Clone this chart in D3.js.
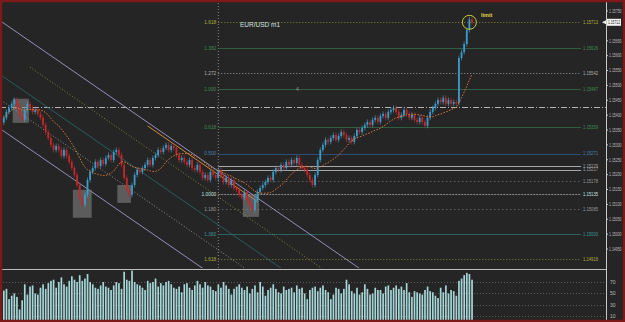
<!DOCTYPE html>
<html>
<head>
<meta charset="utf-8">
<script src="https://cdnjs.cloudflare.com/ajax/libs/d3/7.8.5/d3.min.js"></script>
<style>
  body { margin: 0; background: #252525; }
  svg { display: block; font-family: 'Liberation Sans', Arial, sans-serif; }
</style>
</head>
<body>
<div id="chart"></div>
<script>
// EUR/USD m1 closes, one per candle
const closes = [
  1.15391, 1.15411, 1.15424, 1.15438, 1.15451, 1.15431, 1.15401, 1.15384, 1.15417, 1.15438,
  1.15424, 1.15411, 1.15417, 1.15404, 1.15391, 1.15367, 1.15343, 1.15323, 1.15300, 1.15283,
  1.15296, 1.15283, 1.15263, 1.15283, 1.15263, 1.15243, 1.15222, 1.15199, 1.15165, 1.15122,
  1.15099, 1.15132, 1.15182, 1.15209, 1.15222, 1.15243, 1.15229, 1.15249, 1.15236, 1.15256,
  1.15266, 1.15249, 1.15276, 1.15283, 1.15266, 1.15233, 1.15189, 1.15149, 1.15132, 1.15165,
  1.15199, 1.15216, 1.15209, 1.15222, 1.15233, 1.15249, 1.15233, 1.15256, 1.15266, 1.15283,
  1.15276, 1.15290, 1.15300, 1.15283, 1.15296, 1.15290, 1.15266, 1.15249, 1.15256, 1.15243,
  1.15233, 1.15249, 1.15222, 1.15216, 1.15233, 1.15209, 1.15189, 1.15199, 1.15182, 1.15209,
  1.15199, 1.15189, 1.15216, 1.15196, 1.15175, 1.15189, 1.15165, 1.15182, 1.15155, 1.15149,
  1.15132, 1.15122, 1.15142, 1.15115, 1.15099, 1.15081, 1.15115, 1.15142, 1.15155, 1.15165,
  1.15175, 1.15189, 1.15182, 1.15209, 1.15222, 1.15216, 1.15233, 1.15222, 1.15243, 1.15233,
  1.15249, 1.15239, 1.15256, 1.15233, 1.15222, 1.15216, 1.15199, 1.15182, 1.15165, 1.15199,
  1.15249, 1.15283, 1.15300, 1.15317, 1.15310, 1.15323, 1.15333, 1.15317, 1.15330, 1.15343,
  1.15333, 1.15317, 1.15323, 1.15310, 1.15330, 1.15350, 1.15343, 1.15357, 1.15367, 1.15377,
  1.15367, 1.15384, 1.15391, 1.15377, 1.15397, 1.15404, 1.15391, 1.15411, 1.15417, 1.15424,
  1.15411, 1.15391, 1.15401, 1.15417, 1.15404, 1.15391, 1.15401, 1.15384, 1.15377, 1.15391,
  1.15377, 1.15364, 1.15391, 1.15411, 1.15424, 1.15438, 1.15451, 1.15444, 1.15458, 1.15438,
  1.15451, 1.15438, 1.15444, 1.15441, 1.15592, 1.15612, 1.15639, 1.15686, 1.15722, 1.15712
];
const firstOpen = 1.15375;

const volumes = [
  55, 58, 40, 46, 50, 44, 22, 38, 66, 48,
  62, 64, 50, 48, 60, 66, 58, 68, 72, 74,
  60, 70, 78, 66, 62, 72, 80, 74, 70, 82,
  72, 76, 84, 70, 66, 60, 58, 64, 70, 62,
  60, 56, 64, 70, 68, 58, 88, 74, 72, 90,
  70, 66, 64, 60, 56, 72, 68, 70, 76, 62,
  68, 64, 70, 72, 66, 60, 58, 62, 52, 66,
  68, 60, 56, 64, 72, 66, 60, 70, 64, 62,
  56, 54, 66, 60, 70, 64, 58, 48, 58, 62,
  66, 60, 56, 62, 50, 58, 64, 52, 70, 62,
  46, 56, 60, 66, 58, 52, 50, 62, 56, 58,
  60, 52, 64, 58, 60, 50, 40, 56, 60, 62,
  54, 60, 64, 56, 52, 40, 48, 60, 58, 50,
  58, 74, 66, 54, 50, 60, 48, 52, 66, 58,
  48, 50, 60, 56, 56, 50, 62, 64, 56, 60,
  64, 58, 62, 56, 68, 52, 44, 54, 52, 50,
  48, 56, 62, 54, 52, 46, 42, 60, 52, 64,
  50, 56, 54, 46, 72, 76, 82, 86, 84, 74
];

const priceTicks = [1.1575, 1.1565, 1.1560, 1.1555, 1.1550, 1.1545, 1.1540, 1.1535,
  1.1530, 1.1525, 1.1520, 1.1515, 1.1510, 1.1505, 1.1500, 1.1495];
const volumeTicks = [70, 50, 30, 10];

// fibo / level lines
const levelPrices = [1.15713, 1.15626, 1.15542, 1.15487, 1.15359, 1.15271, 1.15229,
  1.15217, 1.15178, 1.15135, 1.15085, 1.15000, 1.14916];
const levelNames = ['1.618', '1.382', '1.272', '1.000', '0.618', '0.500', '', '',
  '', '1.0000', '1.180', '1.382', '1.618'];
const levelKinds = ['olive', 'green', 'white', 'green', 'green', 'blue', 'pale',
  'pale', 'grey', 'grey2', 'grey', 'teal', 'olive'];
const pivotPrice = 1.15427;
const sessionIndex = 82;

// descending channel: anchor candle / price, drop per candle, offsets of the parallels
const channelAnchor = [-2, 1.15721];
const channelDrop = 0.0000606;
const channelOffsets = [0, 0.00087, 0.00181, 0.00265, 0.00363];
const channelStarts = [-2, 10, -2, -2, -2];
const channelKinds = ['lav', 'oliveDot', 'teal', 'whiteDot', 'lav'];
const orangeSegment = [55, 97, 0.00012];

// swing boxes: first candle, last candle, top price, bottom price
const boxes = [
  [4, 9, 1.15455, 1.15374],
  [27, 33, 1.15149, 1.15055],
  [44, 48, 1.15165, 1.15105],
  [92, 97, 1.15132, 1.15058]
];

const maPeriod = 14;

const style = {
  olive: { stroke: '#85853a', dash: '1,2', text: '#b0b040' },
  green: { stroke: '#2e5e40', dash: null, text: '#3f8a55' },
  white: { stroke: '#9a9a9a', dash: '1,2', text: '#b0b0b0' },
  blue: { stroke: '#2b5075', dash: null, text: '#4a80b0' },
  pale: { stroke: '#a5a5a5', dash: null, text: '#a0a0a0' },
  grey: { stroke: '#7a7a7a', dash: '1,3', text: '#9a9a9a' },
  grey2: { stroke: '#8c8c8c', dash: '2,1', text: '#c4e4e4' },
  teal: { stroke: '#2a6262', dash: null, text: '#3a9595' },
  lav: { stroke: '#a09cc8', dash: null },
  oliveDot: { stroke: '#8c8c44', dash: '1,2' },
  whiteDot: { stroke: '#9a9a9a', dash: '1,2' }
};

const W = 625, H = 322;
const panel = { left: 0, right: 606, top: 3, bottom: 268 };

const svg = d3.select('#chart')
  .append('svg')
  .attr('width', W)
  .attr('height', H)

svg.append('rect').attr('width', W).attr('height', H).attr('fill', '#252525');

const x = d3.scaleLinear().domain([0, closes.length - 1]).range([3.8, 472]);
const y = d3.scaleLinear().domain([1.1495, 1.1575]).range([249, 11]);
const yVol = d3.scaleLinear().domain([0, 70]).range([322, 282]);

svg.append('clipPath').attr('id', 'pc')
  .append('rect')
  .attr('x', panel.left).attr('y', panel.top)
  .attr('width', panel.right - panel.left).attr('height', panel.bottom - panel.top);

const main = svg.append('g').attr('clip-path', 'url(#pc)');

// vertical session marker
main.append('line')
  .attr('x1', x(sessionIndex)).attr('x2', x(sessionIndex))
  .attr('y1', panel.top).attr('y2', panel.bottom)
  .attr('stroke', '#8a8a8a').attr('stroke-dasharray', '1,2');

// level lines
const levels = levelPrices.map((p, i) => ({ price: p, name: levelNames[i], kind: levelKinds[i] }));

main.selectAll('line.level')
  .data(levels)
  .enter()
  .append('line')
  .attr('class', 'level')
  .attr('x1', x(sessionIndex)).attr('x2', 581)
  .attr('y1', d => Math.round(y(d.price)) + 0.5)
  .attr('y2', d => Math.round(y(d.price)) + 0.5)
  .attr('stroke', d => style[d.kind].stroke)
  .attr('stroke-dasharray', d => style[d.kind].dash);

main.selectAll('text.lvlR')
  .data(levels)
  .enter()
  .append('text')
  .attr('class', 'lvlR')
  .attr('x', 583)
  .attr('y', d => y(d.price) + 1.8)
  .attr('font-size', 4.6)
  .attr('textLength', 15).attr('lengthAdjust', 'spacingAndGlyphs')
  .attr('fill', d => style[d.kind].text)
  .text(d => d3.format('.5f')(d.price));

main.selectAll('text.lvlL')
  .data(levels)
  .enter()
  .append('text')
  .attr('class', 'lvlL')
  .attr('x', x(sessionIndex) - 2)
  .attr('y', d => y(d.price) + 1.8)
  .attr('text-anchor', 'end')
  .attr('font-size', 4.8)
  .attr('fill', d => style[d.kind].text)
  .text(d => d.name);

// pivot dash-dot line
main.append('line')
  .attr('x1', panel.left).attr('x2', panel.right)
  .attr('y1', Math.round(y(pivotPrice)) + 0.5).attr('y2', Math.round(y(pivotPrice)) + 0.5)
  .attr('stroke', '#b4b4b4').attr('stroke-dasharray', '6,2,1,2');

// channel lines
const chPrice = (i, off) => channelAnchor[1] - channelDrop * (i - channelAnchor[0]) - off;

main.selectAll('line.chan')
  .data(channelOffsets)
  .enter()
  .append('line')
  .attr('class', 'chan')
  .attr('x1', (d, k) => x(channelStarts[k]))
  .attr('y1', (d, k) => y(chPrice(channelStarts[k], d)))
  .attr('x2', x(200))
  .attr('y2', d => y(chPrice(200, d)))
  .attr('stroke', (d, k) => style[channelKinds[k]].stroke)
  .attr('stroke-dasharray', (d, k) => style[channelKinds[k]].dash)
  .attr('stroke-width', 0.9);

main.append('line')
  .attr('x1', x(orangeSegment[0])).attr('y1', y(chPrice(orangeSegment[0], orangeSegment[2])))
  .attr('x2', x(orangeSegment[1])).attr('y2', y(chPrice(orangeSegment[1], orangeSegment[2])))
  .attr('stroke', '#d08a3a').attr('stroke-width', 1);

// swing boxes
main.selectAll('rect.box')
  .data(boxes)
  .enter()
  .append('rect')
  .attr('class', 'box')
  .attr('x', d => x(d[0] - 0.6))
  .attr('y', d => y(d[2]))
  .attr('width', d => x(d[1] + 0.6) - x(d[0] - 0.6))
  .attr('height', d => y(d[3]) - y(d[2]))
  .attr('fill', '#8a8a8a').attr('fill-opacity', 0.55);

// candles
const candles = closes.map((c, i) => ({ i: i, open: i === 0 ? firstOpen : closes[i - 1], close: c }));
const upCol = '#3a9cc8', downCol = '#c4282a';

main.selectAll('line.wick')
  .data(candles)
  .enter()
  .append('line')
  .attr('class', 'wick')
  .attr('x1', d => x(d.i)).attr('x2', d => x(d.i))
  .attr('y1', d => y(Math.max(d.open, d.close)) - 2.5)
  .attr('y2', d => y(Math.min(d.open, d.close)) + 2.5)
  .attr('stroke', d => d.close >= d.open ? upCol : downCol)
  .attr('stroke-width', 0.7);

main.selectAll('rect.body')
  .data(candles)
  .enter()
  .append('rect')
  .attr('class', 'body')
  .attr('x', d => x(d.i) - 0.9)
  .attr('width', 1.8)
  .attr('y', d => y(Math.max(d.open, d.close)))
  .attr('height', d => Math.max(1.5, Math.abs(y(d.open) - y(d.close))))
  .attr('fill', d => d.close >= d.open ? upCol : downCol);

// moving average
const ma = closes.map((c, i) => {
  const from = Math.max(0, i - maPeriod + 1);
  return { i: i, v: d3.mean(closes.slice(from, i + 1)) };
});

main.append('path')
  .datum(ma)
  .attr('fill', 'none')
  .attr('stroke', '#e07a3a')
  .attr('stroke-width', 1)
  .attr('stroke-dasharray', '1.5,1.5')
  .attr('d', d3.line().x(d => x(d.i)).y(d => y(d.v)));

// labels
svg.append('text')
  .attr('x', 240).attr('y', 27)
  .attr('font-size', 6.5).attr('fill', '#d4e2e2')
  .text('EUR/USD m1');

svg.append('text')
  .attr('x', 296).attr('y', 91)
  .attr('font-size', 5).attr('fill', '#999')
  .text('4');

const last = closes[closes.length - 1];
svg.append('circle')
  .attr('cx', x(closes.length - 2)).attr('cy', y(last))
  .attr('r', 7)
  .attr('fill', 'none').attr('stroke', '#c8cc3c').attr('stroke-width', 1);

svg.append('text')
  .attr('x', 481).attr('y', 17)
  .attr('font-size', 5.5).attr('font-weight', 'bold').attr('fill', '#e8d64a')
  .text('limit');

// volume panel
const vol = svg.append('g');

vol.selectAll('line.vgrid')
  .data(volumeTicks)
  .enter()
  .append('line')
  .attr('class', 'vgrid')
  .attr('x1', 0).attr('x2', panel.right)
  .attr('y1', d => Math.round(yVol(d)) + 0.5).attr('y2', d => Math.round(yVol(d)) + 0.5)
  .attr('stroke', '#5a5a5a').attr('stroke-dasharray', '1,2');

vol.selectAll('rect.vbar')
  .data(volumes)
  .enter()
  .append('rect')
  .attr('class', 'vbar')
  .attr('x', (d, i) => x(i) - 0.8)
  .attr('width', 1.7)
  .attr('y', d => yVol(d))
  .attr('height', d => yVol(0) - yVol(d))
  .attr('fill', '#a6d6d8');

vol.append('line')
  .attr('x1', 0).attr('x2', panel.right)
  .attr('y1', 269.5).attr('y2', 269.5)
  .attr('stroke', '#bdbdbd');

vol.selectAll('text.vtick')
  .data(volumeTicks)
  .enter()
  .append('text')
  .attr('class', 'vtick')
  .attr('x', 610).attr('y', d => yVol(d) + 2)
  .attr('font-size', 5).attr('fill', '#bbb')
  .text(d => d);

// price axis
svg.append('line')
  .attr('x1', panel.right + 0.5).attr('x2', panel.right + 0.5)
  .attr('y1', 0).attr('y2', H)
  .attr('stroke', '#c8c8c8');

const axis = svg.append('g');

axis.selectAll('line.ptick')
  .data(priceTicks)
  .enter()
  .append('line')
  .attr('class', 'ptick')
  .attr('x1', panel.right).attr('x2', panel.right + 2)
  .attr('y1', d => y(d)).attr('y2', d => y(d))
  .attr('stroke', '#c8c8c8');

axis.selectAll('text.ptick')
  .data(priceTicks)
  .enter()
  .append('text')
  .attr('class', 'ptick')
  .attr('x', 609).attr('y', d => y(d) + 1.8)
  .attr('font-size', 4.8)
  .attr('textLength', 12.5).attr('lengthAdjust', 'spacingAndGlyphs')
  .attr('fill', '#bdbdbd')
  .text(d => d3.format('.5f')(d));

axis.append('rect')
  .attr('x', 607).attr('y', y(last) - 3.5)
  .attr('width', 14).attr('height', 7)
  .attr('fill', '#f2f2f2');

axis.append('text')
  .attr('x', 608).attr('y', y(last) + 1.8)
  .attr('font-size', 4.8)
  .attr('textLength', 12).attr('lengthAdjust', 'spacingAndGlyphs')
  .attr('fill', '#222')
  .text(d3.format('.5f')(last));

axis.append('path')
  .attr('d', `M${panel.right - 4},${y(last)} l4,-2 l0,4 z`)
  .attr('fill', '#eee');

// frame
svg.append('rect')
  .attr('x', 1).attr('y', 1)
  .attr('width', W - 2).attr('height', H - 2)
  .attr('fill', 'none')
  .attr('stroke', '#7c1a1a').attr('stroke-width', 2.5);
</script>
</body>
</html>
